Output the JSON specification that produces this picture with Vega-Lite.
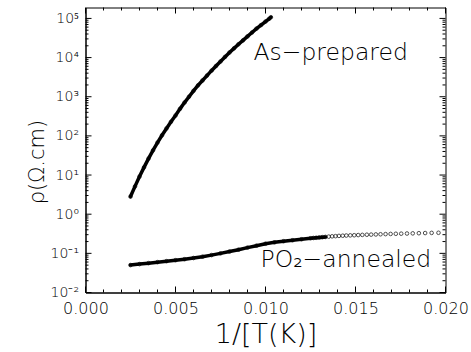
{
  "$schema": "https://vega.github.io/schema/vega-lite/v6.json",
  "width": 360,
  "height": 285,
  "autosize": "none",
  "padding": {"left": 85.5, "top": 7.5, "right": 25.5, "bottom": 59.5},
  "background": "white",
  "config": {
    "view": {"stroke": "black", "strokeWidth": 1},
    "axis": {
      "grid": false,
      "domainColor": "black",
      "tickColor": "black",
      "labelColor": "black",
      "titleColor": "black",
      "labelFont": "DejaVu Sans",
      "titleFont": "DejaVu Sans",
      "labelFontWeight": 200,
      "titleFontWeight": 200,
      "domainWidth": 1,
      "labelFlush": false,
      "labelOverlap": false
    },
    "tick": {"color": "#000000", "thickness": 1, "opacity": 1, "filled": true}
  },
  "datasets": {
    "curves": [
      {"series": "As-prepared", "x": 0.0025, "rho": 2.82},
      {"series": "As-prepared", "x": 0.00275, "rho": 5.13},
      {"series": "As-prepared", "x": 0.003, "rho": 9.12},
      {"series": "As-prepared", "x": 0.00325, "rho": 15.7},
      {"series": "As-prepared", "x": 0.0035, "rho": 26.3},
      {"series": "As-prepared", "x": 0.00375, "rho": 42.7},
      {"series": "As-prepared", "x": 0.004, "rho": 67.6},
      {"series": "As-prepared", "x": 0.00425, "rho": 103.5},
      {"series": "As-prepared", "x": 0.0045, "rho": 155},
      {"series": "As-prepared", "x": 0.00475, "rho": 229},
      {"series": "As-prepared", "x": 0.005, "rho": 331},
      {"series": "As-prepared", "x": 0.00525, "rho": 490},
      {"series": "As-prepared", "x": 0.0055, "rho": 708},
      {"series": "As-prepared", "x": 0.00575, "rho": 1000},
      {"series": "As-prepared", "x": 0.006, "rho": 1413},
      {"series": "As-prepared", "x": 0.00625, "rho": 1950},
      {"series": "As-prepared", "x": 0.0065, "rho": 2600},
      {"series": "As-prepared", "x": 0.00675, "rho": 3470},
      {"series": "As-prepared", "x": 0.007, "rho": 4624},
      {"series": "As-prepared", "x": 0.00725, "rho": 6080},
      {"series": "As-prepared", "x": 0.0075, "rho": 7943},
      {"series": "As-prepared", "x": 0.00775, "rho": 10400},
      {"series": "As-prepared", "x": 0.008, "rho": 13490},
      {"series": "As-prepared", "x": 0.00825, "rho": 17200},
      {"series": "As-prepared", "x": 0.0085, "rho": 21880},
      {"series": "As-prepared", "x": 0.00875, "rho": 27540},
      {"series": "As-prepared", "x": 0.009, "rho": 34670},
      {"series": "As-prepared", "x": 0.00925, "rho": 43650},
      {"series": "As-prepared", "x": 0.0095, "rho": 54950},
      {"series": "As-prepared", "x": 0.00975, "rho": 67600},
      {"series": "As-prepared", "x": 0.01, "rho": 83180},
      {"series": "As-prepared", "x": 0.0102, "rho": 97700},
      {"series": "As-prepared", "x": 0.0103, "rho": 107150},
      {"series": "PO2-annealed", "x": 0.0025, "rho": 0.0501},
      {"series": "PO2-annealed", "x": 0.003, "rho": 0.0531},
      {"series": "PO2-annealed", "x": 0.0035, "rho": 0.0562},
      {"series": "PO2-annealed", "x": 0.004, "rho": 0.0596},
      {"series": "PO2-annealed", "x": 0.0045, "rho": 0.0631},
      {"series": "PO2-annealed", "x": 0.005, "rho": 0.0668},
      {"series": "PO2-annealed", "x": 0.0055, "rho": 0.0708},
      {"series": "PO2-annealed", "x": 0.006, "rho": 0.0759},
      {"series": "PO2-annealed", "x": 0.0065, "rho": 0.0822},
      {"series": "PO2-annealed", "x": 0.007, "rho": 0.0902},
      {"series": "PO2-annealed", "x": 0.0075, "rho": 0.1},
      {"series": "PO2-annealed", "x": 0.008, "rho": 0.111},
      {"series": "PO2-annealed", "x": 0.0085, "rho": 0.124},
      {"series": "PO2-annealed", "x": 0.009, "rho": 0.14},
      {"series": "PO2-annealed", "x": 0.0095, "rho": 0.157},
      {"series": "PO2-annealed", "x": 0.01, "rho": 0.176},
      {"series": "PO2-annealed", "x": 0.0105, "rho": 0.191},
      {"series": "PO2-annealed", "x": 0.011, "rho": 0.204},
      {"series": "PO2-annealed", "x": 0.0115, "rho": 0.216},
      {"series": "PO2-annealed", "x": 0.012, "rho": 0.229},
      {"series": "PO2-annealed", "x": 0.0125, "rho": 0.243},
      {"series": "PO2-annealed", "x": 0.01266, "rho": 0.247},
      {"series": "PO2-annealed", "x": 0.01282, "rho": 0.25},
      {"series": "PO2-annealed", "x": 0.01299, "rho": 0.254},
      {"series": "PO2-annealed", "x": 0.01316, "rho": 0.259},
      {"series": "PO2-annealed", "x": 0.01333, "rho": 0.263},
      {"series": "PO2-annealed", "x": 0.01351, "rho": 0.267},
      {"series": "PO2-annealed", "x": 0.0137, "rho": 0.272},
      {"series": "PO2-annealed", "x": 0.01389, "rho": 0.275},
      {"series": "PO2-annealed", "x": 0.01408, "rho": 0.279},
      {"series": "PO2-annealed", "x": 0.01429, "rho": 0.282},
      {"series": "PO2-annealed", "x": 0.01449, "rho": 0.285},
      {"series": "PO2-annealed", "x": 0.01471, "rho": 0.288},
      {"series": "PO2-annealed", "x": 0.01493, "rho": 0.29},
      {"series": "PO2-annealed", "x": 0.01515, "rho": 0.293},
      {"series": "PO2-annealed", "x": 0.01538, "rho": 0.296},
      {"series": "PO2-annealed", "x": 0.01563, "rho": 0.299},
      {"series": "PO2-annealed", "x": 0.01587, "rho": 0.301},
      {"series": "PO2-annealed", "x": 0.01613, "rho": 0.304},
      {"series": "PO2-annealed", "x": 0.01639, "rho": 0.307},
      {"series": "PO2-annealed", "x": 0.01667, "rho": 0.31},
      {"series": "PO2-annealed", "x": 0.01695, "rho": 0.313},
      {"series": "PO2-annealed", "x": 0.01724, "rho": 0.316},
      {"series": "PO2-annealed", "x": 0.01754, "rho": 0.318},
      {"series": "PO2-annealed", "x": 0.01786, "rho": 0.321},
      {"series": "PO2-annealed", "x": 0.01818, "rho": 0.324},
      {"series": "PO2-annealed", "x": 0.01852, "rho": 0.327},
      {"series": "PO2-annealed", "x": 0.01887, "rho": 0.33},
      {"series": "PO2-annealed", "x": 0.01923, "rho": 0.333},
      {"series": "PO2-annealed", "x": 0.01961, "rho": 0.335}
    ],
    "labels": [
      {"x": 0.00933, "rho": 8450, "text": "As−prepared"},
      {"x": 0.00972, "rho": 0.0436, "text": "PO₂−annealed"}
    ],
    "xticks": [
      {"v": 0, "kind": "major"}, {"v": 0.001, "kind": "minor"}, {"v": 0.002, "kind": "minor"}, {"v": 0.003, "kind": "minor"}, {"v": 0.004, "kind": "minor"},
      {"v": 0.005, "kind": "major"}, {"v": 0.006, "kind": "minor"}, {"v": 0.007, "kind": "minor"}, {"v": 0.008, "kind": "minor"}, {"v": 0.009, "kind": "minor"},
      {"v": 0.01, "kind": "major"}, {"v": 0.011, "kind": "minor"}, {"v": 0.012, "kind": "minor"}, {"v": 0.013, "kind": "minor"}, {"v": 0.014, "kind": "minor"},
      {"v": 0.015, "kind": "major"}, {"v": 0.016, "kind": "minor"}, {"v": 0.017, "kind": "minor"}, {"v": 0.018, "kind": "minor"}, {"v": 0.019, "kind": "minor"},
      {"v": 0.02, "kind": "major"}
    ],
    "yticks": [
      {"v": 0.01, "kind": "major"}, {"v": 0.02, "kind": "minor"}, {"v": 0.03, "kind": "minor"}, {"v": 0.04, "kind": "minor"}, {"v": 0.05, "kind": "minor"}, {"v": 0.06, "kind": "minor"}, {"v": 0.07, "kind": "minor"}, {"v": 0.08, "kind": "minor"}, {"v": 0.09, "kind": "minor"},
      {"v": 0.1, "kind": "major"}, {"v": 0.2, "kind": "minor"}, {"v": 0.3, "kind": "minor"}, {"v": 0.4, "kind": "minor"}, {"v": 0.5, "kind": "minor"}, {"v": 0.6, "kind": "minor"}, {"v": 0.7, "kind": "minor"}, {"v": 0.8, "kind": "minor"}, {"v": 0.9, "kind": "minor"},
      {"v": 1, "kind": "major"}, {"v": 2, "kind": "minor"}, {"v": 3, "kind": "minor"}, {"v": 4, "kind": "minor"}, {"v": 5, "kind": "minor"}, {"v": 6, "kind": "minor"}, {"v": 7, "kind": "minor"}, {"v": 8, "kind": "minor"}, {"v": 9, "kind": "minor"},
      {"v": 10, "kind": "major"}, {"v": 20, "kind": "minor"}, {"v": 30, "kind": "minor"}, {"v": 40, "kind": "minor"}, {"v": 50, "kind": "minor"}, {"v": 60, "kind": "minor"}, {"v": 70, "kind": "minor"}, {"v": 80, "kind": "minor"}, {"v": 90, "kind": "minor"},
      {"v": 100, "kind": "major"}, {"v": 200, "kind": "minor"}, {"v": 300, "kind": "minor"}, {"v": 400, "kind": "minor"}, {"v": 500, "kind": "minor"}, {"v": 600, "kind": "minor"}, {"v": 700, "kind": "minor"}, {"v": 800, "kind": "minor"}, {"v": 900, "kind": "minor"},
      {"v": 1000, "kind": "major"}, {"v": 2000, "kind": "minor"}, {"v": 3000, "kind": "minor"}, {"v": 4000, "kind": "minor"}, {"v": 5000, "kind": "minor"}, {"v": 6000, "kind": "minor"}, {"v": 7000, "kind": "minor"}, {"v": 8000, "kind": "minor"}, {"v": 9000, "kind": "minor"},
      {"v": 10000, "kind": "major"}, {"v": 20000, "kind": "minor"}, {"v": 30000, "kind": "minor"}, {"v": 40000, "kind": "minor"}, {"v": 50000, "kind": "minor"}, {"v": 60000, "kind": "minor"}, {"v": 70000, "kind": "minor"}, {"v": 80000, "kind": "minor"}, {"v": 90000, "kind": "minor"},
      {"v": 100000, "kind": "major"}
    ]
  },
  "encoding": {
    "x": {"type": "quantitative", "scale": {"domain": [0, 0.02], "nice": false, "zero": false}, "title": "1/[T(K)]"},
    "y": {"type": "quantitative", "scale": {"type": "log", "domain": [0.01, 190000], "nice": false}, "title": "ρ(Ω.cm)"}
  },
  "layer": [
    {
      "data": {"name": "curves"},
      "transform": [{"filter": "datum.series == 'As-prepared' || datum.x <= 0.01335"}],
      "mark": {"type": "line", "color": "black", "strokeWidth": 3.5, "strokeCap": "round"},
      "encoding": {
        "x": {
          "field": "x", "type": "quantitative",
          "axis": {
            "orient": "bottom",
            "values": [0, 0.005, 0.01, 0.015, 0.02],
            "format": ".3f",
            "ticks": false,
            "labelFontSize": 16,
            "labelPadding": 8,
            "title": "1/[T(K)]",
            "titleFontSize": 27,
            "titlePadding": 5
          }
        },
        "y": {
          "field": "rho", "type": "quantitative",
          "axis": {
            "orient": "left",
            "values": [0.01, 0.1, 1, 10, 100, 1000, 10000, 100000],
            "labelExpr": "['10⁻²','10⁻¹','10⁰','10¹','10²','10³','10⁴','10⁵'][round(log(datum.value)/LN10)+2]",
            "ticks": false,
            "labelFontSize": 14,
            "labelPadding": 7,
            "title": "ρ(Ω.cm)",
            "titleFontSize": 21,
            "titleBaseline": "middle",
            "titleX": -48,
            "titleY": 154
          }
        },
        "detail": {"field": "series"}
      }
    },
    {
      "data": {"name": "curves"},
      "mark": {"type": "point", "shape": "circle", "filled": false, "color": "black", "strokeWidth": 1, "size": 13},
      "encoding": {
        "x": {"field": "x", "type": "quantitative"},
        "y": {"field": "rho", "type": "quantitative"}
      }
    },
    {
      "data": {"name": "labels"},
      "mark": {"type": "text", "align": "left", "baseline": "alphabetic", "font": "DejaVu Sans", "fontWeight": 200, "fontSize": 23.5, "color": "black"},
      "encoding": {
        "x": {"field": "x", "type": "quantitative"},
        "y": {"field": "rho", "type": "quantitative"},
        "text": {"field": "text"}
      }
    },
    {
      "data": {"name": "xticks"},
      "transform": [{"filter": "datum.kind == 'major'"}],
      "mark": {"type": "tick", "orient": "vertical", "size": 6, "yOffset": -3, "color": "#000000"},
      "encoding": {"x": {"field": "v", "type": "quantitative"}, "y": {"datum": 0.01}}
    },
    {
      "data": {"name": "xticks"},
      "transform": [{"filter": "datum.kind == 'minor'"}],
      "mark": {"type": "tick", "orient": "vertical", "size": 3, "yOffset": -1.5, "color": "#000000"},
      "encoding": {"x": {"field": "v", "type": "quantitative"}, "y": {"datum": 0.01}}
    },
    {
      "data": {"name": "xticks"},
      "transform": [{"filter": "datum.kind == 'major'"}],
      "mark": {"type": "tick", "orient": "vertical", "size": 6, "yOffset": 3, "color": "#000000"},
      "encoding": {"x": {"field": "v", "type": "quantitative"}, "y": {"datum": 190000}}
    },
    {
      "data": {"name": "xticks"},
      "transform": [{"filter": "datum.kind == 'minor'"}],
      "mark": {"type": "tick", "orient": "vertical", "size": 3, "yOffset": 1.5, "color": "#000000"},
      "encoding": {"x": {"field": "v", "type": "quantitative"}, "y": {"datum": 190000}}
    },
    {
      "data": {"name": "yticks"},
      "transform": [{"filter": "datum.kind == 'major'"}],
      "mark": {"type": "tick", "orient": "horizontal", "size": 6, "xOffset": 3, "color": "#000000"},
      "encoding": {"y": {"field": "v", "type": "quantitative"}, "x": {"datum": 0}}
    },
    {
      "data": {"name": "yticks"},
      "transform": [{"filter": "datum.kind == 'minor'"}],
      "mark": {"type": "tick", "orient": "horizontal", "size": 3, "xOffset": 1.5, "color": "#000000"},
      "encoding": {"y": {"field": "v", "type": "quantitative"}, "x": {"datum": 0}}
    },
    {
      "data": {"name": "yticks"},
      "transform": [{"filter": "datum.kind == 'major'"}],
      "mark": {"type": "tick", "orient": "horizontal", "size": 6, "xOffset": -3, "color": "#000000"},
      "encoding": {"y": {"field": "v", "type": "quantitative"}, "x": {"datum": 0.02}}
    },
    {
      "data": {"name": "yticks"},
      "transform": [{"filter": "datum.kind == 'minor'"}],
      "mark": {"type": "tick", "orient": "horizontal", "size": 3, "xOffset": -1.5, "color": "#000000"},
      "encoding": {"y": {"field": "v", "type": "quantitative"}, "x": {"datum": 0.02}}
    }
  ]
}
